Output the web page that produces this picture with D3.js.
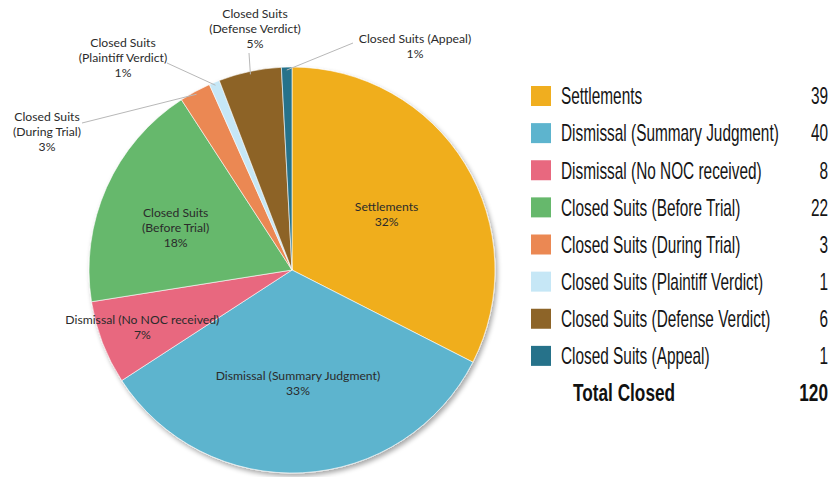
<!DOCTYPE html>
<html>
<head>
<meta charset="utf-8">
<script src="https://cdn.jsdelivr.net/npm/d3@7/dist/d3.min.js"></script>
<style>
  html, body { margin: 0; padding: 0; background: #fff; }
  svg { display: block; }
</style>
</head>
<body>
<svg id="chart" width="830" height="477"></svg>
<script>
// Closed case outcomes
const categories = [
  "Settlements",
  "Dismissal (Summary Judgment)",
  "Dismissal (No NOC received)",
  "Closed Suits (Before Trial)",
  "Closed Suits (During Trial)",
  "Closed Suits (Plaintiff Verdict)",
  "Closed Suits (Defense Verdict)",
  "Closed Suits (Appeal)"
];
const counts = [39, 40, 8, 22, 3, 1, 6, 1];
const percentLabels = ["32%", "33%", "7%", "18%", "3%", "1%", "5%", "1%"];
// slice label text, line by line
const sliceLabelLines = [
  ["Settlements"],
  ["Dismissal (Summary Judgment)"],
  ["Dismissal (No NOC received)"],
  ["Closed Suits", "(Before Trial)"],
  ["Closed Suits", "(During Trial)"],
  ["Closed Suits", "(Plaintiff Verdict)"],
  ["Closed Suits", "(Defense Verdict)"],
  ["Closed Suits (Appeal)"]
];
const colors = ["#F0AE1F", "#5DB4CE", "#E8687F", "#66B86C", "#EB8853", "#C6E7F6", "#8D6428", "#26728A"];
const totalLabel = "Total Closed";

const svg = d3.select("#chart");
const cx = 292, cy = 270, R = 203;

// soft drop shadow under the pie
const defs = svg.append("defs");
const f = defs.append("filter").attr("id", "shadow")
  .attr("x", "-10%").attr("y", "-10%").attr("width", "120%").attr("height", "120%");
f.append("feGaussianBlur").attr("in", "SourceAlpha").attr("stdDeviation", 2.5).attr("result", "b");
f.append("feOffset").attr("in", "b").attr("dx", 2).attr("dy", 3).attr("result", "o");
f.append("feComponentTransfer").attr("in", "o").attr("result", "s")
  .append("feFuncA").attr("type", "linear").attr("slope", 0.35);
const m = f.append("feMerge");
m.append("feMergeNode").attr("in", "s");
m.append("feMergeNode").attr("in", "SourceGraphic");

const data = categories.map((c, i) => ({ name: c, value: counts[i], pct: percentLabels[i], lines: sliceLabelLines[i], color: colors[i], i }));

const pie = d3.pie().value(d => d.value).sort(null);
const arcs = pie(data);
const arc = d3.arc().innerRadius(0).outerRadius(R);

const g = svg.append("g").attr("transform", `translate(${cx},${cy})`);
g.append("g").attr("filter", "url(#shadow)")
  .selectAll("path").data(arcs).join("path")
  .attr("d", arc)
  .attr("fill", d => d.data.color)
  .attr("stroke", "#fff")
  .attr("stroke-width", 0.6);

const labelFont = "'Futura', 'Lato', 'Open Sans', sans-serif";
const textColor = "#2b2b2b";

// labels inside the larger slices: radius factor and angle nudge (radians)
const inside = { 0: [0.54, 0.02], 1: [0.56, 0.0], 2: [0.79, 0.0], 3: [0.61, -0.07] };
// labels outside the thin slices: label centre and leader line start, relative to the pie centre
const outside = {
  4: { x: -245, y: -138, lx: -210, ly: -147 },
  5: { x: -169, y: -212, lx: -125, ly: -207 },
  6: { x: -37, y: -241.5, lx: -43, ly: -217 },
  7: { x: 123, y: -223.5, lx: 61, ly: -227 }
};

const lh = 15;
arcs.forEach(a => {
  const d = a.data;
  let x, y;
  const lines = d.lines.concat([d.pct]);
  const mid = (a.startAngle + a.endAngle) / 2;
  if (inside[d.i] !== undefined) {
    const [k, nudge] = inside[d.i];
    x = Math.sin(mid + nudge) * R * k;
    y = -Math.cos(mid + nudge) * R * k;
  } else {
    const o = outside[d.i];
    x = o.x; y = o.y;
    const px = Math.sin(mid) * (R - 3), py = -Math.cos(mid) * (R - 3);
    g.append("line")
      .attr("x1", o.lx).attr("y1", o.ly)
      .attr("x2", px).attr("y2", py)
      .attr("stroke", "#b8b8b8").attr("stroke-width", 1);
  }
  const t = g.append("text")
    .attr("text-anchor", "middle")
    .attr("font-family", labelFont)
    .attr("font-size", 12.2)
    .attr("fill", textColor);
  const y0 = y - (lines.length - 1) * lh / 2;
  lines.forEach((ln, k) => {
    t.append("tspan").attr("x", x).attr("y", y0 + k * lh).attr("dy", "0.35em").text(ln);
  });
});

// legend with counts, set in a horizontally condensed face
const legendFont = "'Liberation Sans', Arial, sans-serif";
const legendSize = 23;
const probe = svg.append("text").attr("font-family", legendFont).attr("font-size", legendSize)
  .text(categories[1]);
const squeeze = 218 / probe.node().getComputedTextLength();
probe.remove();
const squeezeBold = squeeze * 1.12;

const rowY = d3.scalePoint().domain(d3.range(categories.length + 1)).range([96, 393]);
const lg = svg.append("g");
const rows = lg.selectAll("g.row").data(data).join("g")
  .attr("transform", d => `translate(0,${rowY(d.i)})`);
rows.append("rect").attr("x", 531).attr("y", -10).attr("width", 20).attr("height", 20)
  .attr("fill", d => d.color);
rows.append("text").attr("transform", `translate(561,0) scale(${squeeze},1)`).attr("dy", "0.36em")
  .attr("font-family", legendFont).attr("font-size", legendSize).attr("fill", "#151515")
  .text(d => d.name);
rows.append("text").attr("transform", `translate(828,0) scale(${squeeze},1)`).attr("dy", "0.36em")
  .attr("text-anchor", "end")
  .attr("font-family", legendFont).attr("font-size", legendSize).attr("fill", "#151515")
  .text(d => d.value);

const total = d3.sum(counts);
const ty = rowY(categories.length);
lg.append("text").attr("transform", `translate(573,${ty}) scale(${squeezeBold},1)`).attr("dy", "0.36em")
  .attr("font-family", legendFont).attr("font-size", legendSize).attr("font-weight", "bold").attr("fill", "#111")
  .text(totalLabel);
lg.append("text").attr("transform", `translate(828,${ty}) scale(${squeezeBold},1)`).attr("dy", "0.36em")
  .attr("text-anchor", "end")
  .attr("font-family", legendFont).attr("font-size", legendSize).attr("font-weight", "bold").attr("fill", "#111")
  .text(total);
</script>
</body>
</html>
